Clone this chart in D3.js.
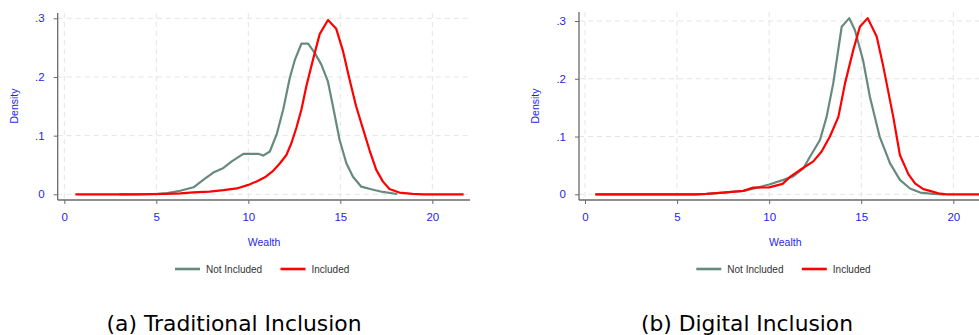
<!DOCTYPE html>
<html>
<head>
<meta charset="utf-8">
<script src="https://cdn.jsdelivr.net/npm/d3@7"></script>
<style>
  html, body { margin: 0; padding: 0; background: #fff; overflow: hidden; }
  svg { display: block; }
</style>
</head>
<body>
<svg id="chart" width="979" height="335"></svg>
<script>
// ---- Data ----
const xTicks = [0, 5, 10, 15, 20];
const yTicks = [0, 0.1, 0.2, 0.3];
const yTickLabels = ["0", ".1", ".2", ".3"];
const seriesNames = ["Not Included", "Included"];
const captions = ["(a) Traditional Inclusion", "(b) Digital Inclusion"];

// Panel (a): Traditional Inclusion — [wealth, density]
const tradNotIncluded = [
  [3.0, 0], [5.0, 0.0005], [5.6, 0.002], [6.3, 0.006], [7.02, 0.012], [7.66, 0.027], [8.1, 0.037],
  [8.65, 0.045], [9.1, 0.056], [9.73, 0.069], [10.54, 0.069], [10.81, 0.066], [11.17, 0.073],
  [11.54, 0.102], [11.9, 0.145], [12.26, 0.199], [12.53, 0.229], [12.89, 0.257], [13.25, 0.257],
  [13.61, 0.241], [13.97, 0.221], [14.33, 0.192], [14.6, 0.150], [14.96, 0.093], [15.33, 0.053],
  [15.69, 0.030], [16.14, 0.013], [16.68, 0.0086], [17.31, 0.004], [18.1, 0.0005]
];
const tradIncluded = [
  [0.6, 0], [4.0, 0], [5.5, 0.0008], [6.3, 0.0015], [7.02, 0.0032], [7.9, 0.0046], [8.65, 0.007],
  [9.37, 0.010], [10.0, 0.016], [10.45, 0.022], [10.9, 0.029], [11.35, 0.040], [11.7, 0.052],
  [12.07, 0.067], [12.34, 0.087], [12.61, 0.113], [12.89, 0.145], [13.16, 0.185], [13.52, 0.230],
  [13.88, 0.273], [14.33, 0.297], [14.78, 0.282], [15.14, 0.245], [15.5, 0.196], [15.86, 0.150],
  [16.23, 0.112], [16.59, 0.075], [16.95, 0.042], [17.31, 0.022], [17.67, 0.009], [18.21, 0.003],
  [18.93, 0.0006], [19.5, 0], [21.7, 0]
];

// Panel (b): Digital Inclusion — [wealth, density]
const digNotIncluded = [
  [0.6, 0], [6.0, 0], [6.6, 0.0008], [7.5, 0.003], [8.6, 0.006], [9.3, 0.011], [10.0, 0.017],
  [10.77, 0.025], [11.3, 0.031], [11.86, 0.045], [12.2, 0.064], [12.76, 0.094], [13.12, 0.134],
  [13.48, 0.192], [13.94, 0.290], [14.35, 0.305], [14.66, 0.284], [15.1, 0.232], [15.47, 0.169],
  [16.0, 0.100], [16.56, 0.054], [17.1, 0.025], [17.65, 0.010], [18.2, 0.003], [18.9, 0.0006],
  [19.5, 0]
];
const digIncluded = [
  [0.55, 0], [6.0, 0], [6.6, 0.0008], [7.5, 0.003], [8.6, 0.006], [9.14, 0.0115], [10.0, 0.012],
  [10.73, 0.018], [11.13, 0.030], [11.67, 0.042], [12.4, 0.057], [12.85, 0.074], [13.3, 0.100],
  [13.76, 0.134], [14.12, 0.192], [14.57, 0.250], [14.93, 0.290], [15.35, 0.305], [15.84, 0.273],
  [16.2, 0.221], [16.74, 0.134], [17.1, 0.068], [17.56, 0.035], [17.92, 0.019], [18.37, 0.009],
  [18.73, 0.006], [19.19, 0.0017], [19.64, 0], [21.9, 0]
];

// ---- Styling ----
const BLUE = "#1f1fe6";
const GRAY_LINE = "#688a7e";
const RED = "#ff0000";
const colors = [GRAY_LINE, RED];

const svg = d3.select("#chart");

const panels = [
  { series: [tradNotIncluded, tradIncluded], caption: captions[0],
    axisX: 57.7, x0: 64.3, x20: 432.3, right: 470, y0: 194.3, y3: 18.3, top: 13,
    captionX: 234, captionW: 255 },
  { series: [digNotIncluded, digIncluded], caption: captions[1],
    axisX: 579, x0: 585, x20: 953.3, right: 991, y0: 194.3, y3: 21, top: 12,
    captionX: 747, captionW: 212 }
];

panels.forEach(p => {
  const g = svg.append("g");
  const x = d3.scaleLinear().domain([0, 20]).range([p.x0, p.x20]);
  const y = d3.scaleLinear().domain([0, 0.3]).range([p.y0, p.y3]);
  const axisY = 200;

  // grid
  const grid = g.append("g").attr("stroke", "#e4e4e4").attr("stroke-width", 1)
    .attr("stroke-dasharray", "5,4");
  grid.selectAll("line.v").data(xTicks).join("line")
    .attr("x1", d => x(d)).attr("x2", d => x(d))
    .attr("y1", p.top).attr("y2", axisY);
  grid.selectAll("line.h").data(yTicks).join("line")
    .attr("x1", p.axisX).attr("x2", p.right)
    .attr("y1", d => y(d)).attr("y2", d => y(d));

  // y axis
  const yAxis = d3.axisLeft(y).tickValues(yTicks)
    .tickFormat((d, i) => yTickLabels[i]).tickSize(4).tickPadding(9);
  const ya = g.append("g").attr("transform", `translate(${p.axisX},0)`).call(yAxis);
  ya.select(".domain").remove();
  ya.append("line").attr("x1", 0).attr("x2", 0).attr("y1", p.top).attr("y2", axisY)
    .attr("stroke", "#6a6a6a").attr("stroke-width", 1.3);
  ya.selectAll(".tick line").attr("stroke", "#6a6a6a");
  ya.selectAll(".tick text").attr("fill", BLUE)
    .style("font-family", "'Liberation Sans', Arial, sans-serif").style("font-size", "11.5px");

  // x axis
  const xAxis = d3.axisBottom(x).tickValues(xTicks).tickSize(4).tickPadding(9);
  const xa = g.append("g").attr("transform", `translate(0,${axisY})`).call(xAxis);
  xa.select(".domain").remove();
  xa.append("line").attr("x1", p.axisX).attr("x2", p.right).attr("y1", 0).attr("y2", 0)
    .attr("stroke", "#6a6a6a").attr("stroke-width", 1.3);
  xa.selectAll(".tick line").attr("stroke", "#6a6a6a");
  xa.selectAll(".tick text").attr("fill", BLUE)
    .style("font-family", "'Liberation Sans', Arial, sans-serif").style("font-size", "11.5px");

  // axis titles
  g.append("text").attr("transform", `translate(${p.axisX - 44},106) rotate(-90)`)
    .attr("text-anchor", "middle").attr("dominant-baseline", "central")
    .attr("fill", BLUE).style("font-family", "'Liberation Sans', Arial, sans-serif")
    .style("font-size", "10.5px").text("Density");
  g.append("text").attr("x", p.axisX + (264 - 57.7))
    .attr("y", 241.5).attr("text-anchor", "middle").attr("dominant-baseline", "central")
    .attr("fill", BLUE).style("font-family", "'Liberation Sans', Arial, sans-serif")
    .style("font-size", "10.5px").text("Wealth");

  // lines
  const line = d3.line().x(d => x(d[0])).y(d => y(d[1]));
  p.series.forEach((s, i) => {
    g.append("path").datum(s).attr("d", line).attr("fill", "none")
      .attr("stroke", colors[i]).attr("stroke-width", 2.2)
      .attr("stroke-linejoin", "round");
  });

  // legend
  const lx = p.axisX + (175 - 57.7);
  const leg = g.append("g").attr("transform", `translate(${lx},269)`);
  const legX = [0, 105.5];
  seriesNames.forEach((n, i) => {
    leg.append("line").attr("x1", legX[i]).attr("x2", legX[i] + 25).attr("y1", 0).attr("y2", 0)
      .attr("stroke", colors[i]).attr("stroke-width", 2.6);
    leg.append("text").attr("x", legX[i] + 31).attr("y", 0).attr("dominant-baseline", "central")
      .attr("fill", "#333").style("font-family", "'Liberation Sans', Arial, sans-serif")
      .style("font-size", "10px").text(n);
  });

  // caption
  svg.append("text").attr("x", p.captionX - p.captionW / 2).attr("y", 330.5)
    .attr("textLength", p.captionW).attr("lengthAdjust", "spacingAndGlyphs")
    .attr("fill", "#000")
    .style("font-family", "'DejaVu Sans', sans-serif").style("font-weight", "normal")
    .style("font-size", "21.5px").text(p.caption);
});
</script>
</body>
</html>
